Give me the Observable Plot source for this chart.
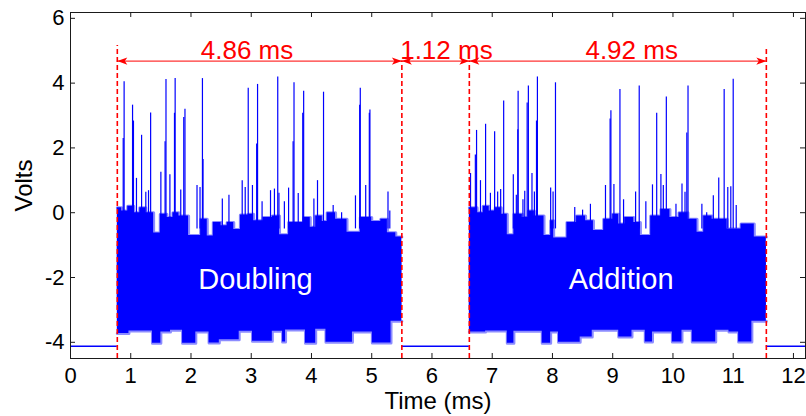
<!DOCTYPE html>
<html>
<head>
<meta charset="utf-8">
<script src="https://cdn.jsdelivr.net/npm/d3@7"></script>
<script src="https://cdn.jsdelivr.net/npm/@observablehq/plot@0.6"></script>
<style>
html, body { margin: 0; padding: 0; background: #fff; }
#chart svg { display: block; }
</style>
</head>
<body>
<div id="chart"></div>
<script>
// ---------------- data ----------------
const xTicks = [0, 1, 2, 3, 4, 5, 6, 7, 8, 9, 10, 11, 12];
const yTicks = [-4, -2, 0, 2, 4, 6];

const baselineLevel = -4.12;
const baselineSegments = [[0, 0.777], [5.50, 6.62], [11.55, 12.2]];

// upper edge of the dense noise band [ms, volts]
const upperDoubling = [[0.777,0.15],[0.85,0.05],[0.95,0.2],[1.05,0.0],[1.15,0.15],[1.25,0.0],[1.38,-0.63],[1.49,-0.05],[1.6,-0.15],[1.7,0.0],[1.8,-0.1],[1.96,-0.7],[2.16,-0.2],[2.27,-0.72],[2.37,-0.3],[2.5,-0.4],[2.6,-0.3],[2.71,-0.52],[2.82,-0.07],[2.95,-0.05],[3.04,-0.25],[3.2,-0.15],[3.35,-0.1],[3.47,-0.68],[3.62,-0.3],[3.87,-0.15],[3.98,-0.45],[4.07,-0.1],[4.18,-0.27],[4.26,0.0],[4.4,-0.2],[4.59,-0.6],[4.81,-0.15],[5.0,-0.27],[5.15,-0.2],[5.26,-0.62],[5.4,-0.75],[5.50,-0.75]];
const upperAddition = [[6.62,0.15],[6.75,0.0],[6.85,0.2],[6.95,0.05],[7.05,0.15],[7.15,-0.05],[7.25,-0.68],[7.36,-0.05],[7.5,-0.15],[7.6,0.05],[7.7,-0.1],[7.86,-0.7],[7.97,-0.25],[8.02,-0.78],[8.24,-0.3],[8.4,-0.1],[8.55,-0.25],[8.68,-0.55],[8.85,-0.2],[9.0,-0.05],[9.1,-0.35],[9.2,-0.15],[9.35,-0.3],[9.46,-0.7],[9.63,-0.1],[9.8,0.1],[9.95,-0.15],[10.1,0.0],[10.25,-0.2],[10.4,-0.6],[10.51,-0.1],[10.65,-0.2],[10.9,-0.5],[11.13,-0.35],[11.35,-0.75],[11.55,-0.75]];

// lower edge of the dense noise band [ms, volts]
const lowerDoubling = [[0.777,-3.73],[0.97,-3.65],[1.36,-4.03],[1.50,-3.68],[1.66,-3.63],[1.86,-4.03],[2.08,-3.68],[2.30,-4.02],[2.47,-3.92],[2.80,-3.66],[3.02,-3.97],[3.35,-3.66],[3.52,-3.99],[3.57,-3.62],[3.90,-4.03],[4.07,-3.6],[4.24,-4.0],[4.68,-3.68],[5.01,-4.02],[5.32,-3.35],[5.50,-3.35]];
const lowerAddition = [[6.62,-3.68],[6.89,-3.65],[7.25,-4.03],[7.36,-3.66],[7.83,-4.03],[7.97,-3.68],[8.10,-4.0],[8.46,-3.84],[8.66,-3.63],[9.10,-3.84],[9.32,-3.63],[9.54,-3.99],[9.66,-3.68],[9.99,-3.99],[10.15,-3.63],[10.32,-3.99],[10.71,-3.63],[10.93,-3.68],[11.09,-3.99],[11.31,-3.35],[11.55,-3.35]];

// spikes above the band [ms, peak volts]
const spikesDoubling = [[0.875,2.29],[0.89,4.04],[1.03,3.32],[1.045,2.83],[1.095,1.06],[1.18,2.39],[1.25,0.63],[1.295,0.68],[1.33,3.08],[1.50,1.25],[1.57,2.19],[1.585,4.11],[1.65,1.17],[1.726,3.07],[1.737,4.14],[1.83,0.70],[1.88,2.94],[1.90,3.19],[2.10,0.84],[2.15,0.78],[2.19,4.14],[2.20,1.64],[2.52,0.42],[2.63,0.54],[2.85,0.99],[2.90,0.78],[2.95,3.84],[3.02,0.84],[3.09,2.12],[3.105,3.96],[3.18,0.34],[3.32,0.68],[3.385,0.73],[3.44,4.19],[3.46,0.6],[3.55,0.34],[3.62,0.76],[3.695,2.19],[3.71,4.01],[3.78,0.59],[3.855,3.07],[3.87,3.75],[4.04,0.42],[4.10,0.99],[4.20,3.72],[4.36,0.22],[4.50,0.0],[4.73,0.52],[4.80,3.32],[4.81,3.84],[4.90,0.84],[4.96,3.07],[4.97,3.17],[5.27,0.64],[5.30,0.05]];
const spikesAddition = [[6.64,1.21],[6.72,1.78],[6.74,2.54],[6.805,0.99],[6.89,2.73],[6.97,0.6],[7.04,2.50],[7.09,0.64],[7.14,0.72],[7.19,3.45],[7.35,1.17],[7.40,0.54],[7.425,2.56],[7.43,3.75],[7.51,0.4],[7.54,0.66],[7.58,3.39],[7.60,3.91],[7.66,1.21],[7.70,0.64],[7.735,2.83],[7.75,4.19],[7.97,0.76],[8.01,0.64],[8.05,4.01],[8.37,0.16],[8.50,0.08],[8.63,0.26],[8.88,0.84],[8.957,2.89],[8.97,3.15],[9.02,0.87],[9.12,3.80],[9.18,0.4],[9.38,0.64],[9.44,3.91],[9.55,0.34],[9.66,0.86],[9.73,3.07],[9.80,1.18],[9.84,0.84],[9.89,3.57],[10.05,0.26],[10.15,0.89],[10.20,0.63],[10.23,2.46],[10.25,3.91],[10.48,0.26],[10.56,0.0],[10.67,0.52],[10.76,1.07],[10.85,3.80],[10.91,0.78],[10.96,0.8],[11.0,4.12],[11.05,0.22]];

// red annotations
const dividers = [{x: 0.777, top: 5.16}, {x: 5.50, top: 4.68}, {x: 6.62, top: 4.68}, {x: 11.55, top: 5.11}];
const arrowLevel = 4.68;
const arrows = [[0.777, 5.50], [5.50, 6.62], [6.62, 11.55]];
const durationLabels = [{x: 2.93, text: "4.86 ms"}, {x: 6.24, text: "1.12 ms"}, {x: 9.315, text: "4.92 ms"}];
const durationLabelLevel = 4.75;
const phaseLabels = [{x: 3.07, text: "Doubling"}, {x: 9.14, text: "Addition"}];
const phaseLabelLevel = -2.35;

// ---------------- chart ----------------
const W = 806, H = 416;
const mt = 12, mb = 58, ml = 70, mr = 1;
const innerH = H - mt - mb, innerW = W - ml - mr;
const tickLen = 5;
const FONT = "'Liberation Sans', Arial, Helvetica, sans-serif";
const BLUE = "#0000ff", FRINGE = "#8c8cff", RED = "#ff0000", INK = "#1a1a1a";

const upperRows = [
  ...upperDoubling.map(([x, v]) => ({seg: 1, x, v})),
  ...upperAddition.map(([x, v]) => ({seg: 2, x, v}))
];
const lowerRows = [
  ...lowerDoubling.map(([x, v]) => ({seg: 1, x, v})),
  ...lowerAddition.map(([x, v]) => ({seg: 2, x, v}))
];
const spikes = [...spikesDoubling, ...spikesAddition];
const heads = arrows.flatMap(([a, b]) => [{x: a, rot: -90}, {x: b, rot: 90}]);

const headSymbol = {
  draw(ctx) {
    ctx.moveTo(0, 0);
    ctx.lineTo(3.6, 10);
    ctx.lineTo(0, 7.5);
    ctx.lineTo(-3.6, 10);
    ctx.closePath();
  }
};

const chart = Plot.plot({
  width: W, height: H,
  marginTop: mt, marginBottom: mb, marginLeft: ml, marginRight: mr,
  style: {fontFamily: FONT, fontSize: "22px", color: INK, background: "#fff"},
  x: {domain: [0, 12.2]},
  y: {domain: [-4.5, 6.18]},
  marks: [
    // signal
    Plot.ruleY(baselineSegments, {x1: d => d[0], x2: d => d[1], y: baselineLevel, stroke: BLUE, strokeWidth: 1.5}),
    // soft anti-aliased fringe along the band edges
    Plot.line(upperRows, {x: "x", y: "v", z: "seg", curve: "step-after", stroke: FRINGE, strokeWidth: 3}),
    Plot.line(lowerRows, {x: "x", y: "v", z: "seg", curve: "step-after", stroke: FRINGE, strokeWidth: 3}),
    Plot.areaY(upperRows, {x: "x", y1: -3, y2: "v", z: "seg", curve: "step-after", fill: BLUE}),
    Plot.areaY(lowerRows, {x: "x", y1: "v", y2: -1, z: "seg", curve: "step-after", fill: BLUE}),
    Plot.ruleX(spikes, {x: d => d[0], y1: -0.5, y2: d => d[1], stroke: BLUE, strokeWidth: 1.2}),
    // phase labels
    Plot.text(phaseLabels, {x: "x", y: phaseLabelLevel, text: "text", fill: "white", fontSize: 29, lineAnchor: "bottom", textAnchor: "middle", fontFamily: FONT}),
    // red annotations
    Plot.ruleX(dividers, {x: "x", y1: -4.5, y2: "top", stroke: RED, strokeWidth: 1.6, strokeDasharray: "5,3"}),
    Plot.ruleY(arrows, {x1: d => d[0], x2: d => d[1], y: arrowLevel, stroke: RED, strokeWidth: 1}),
    Plot.dot(heads, {x: "x", y: arrowLevel, rotate: "rot", symbol: headSymbol, fill: RED, stroke: "none"}),
    Plot.text(durationLabels, {x: "x", y: durationLabelLevel, text: "text", fill: RED, fontSize: 26, lineAnchor: "bottom", textAnchor: "middle", fontFamily: FONT}),
    // frame and inward ticks (MATLAB style)
    Plot.frame({stroke: INK, strokeWidth: 1}),
    Plot.ruleX(xTicks, {x: d => d, insetTop: innerH - tickLen, stroke: INK}),
    Plot.ruleX(xTicks, {x: d => d, insetBottom: innerH - tickLen, stroke: INK}),
    Plot.ruleY(yTicks, {y: d => d, insetRight: innerW - tickLen, stroke: INK}),
    Plot.ruleY(yTicks, {y: d => d, insetLeft: innerW - tickLen, stroke: INK}),
    Plot.axisX(xTicks, {tickSize: 0, tickPadding: 9, tickFormat: d => String(d), fontSize: 22, fontFamily: FONT, fill: "#000", label: null}),
    Plot.axisY(yTicks, {tickSize: 0, tickPadding: 6, tickFormat: d => String(d), fontSize: 22, fontFamily: FONT, fill: "#000", label: null}),
    // axis titles
    Plot.text(["Time (ms)"], {frameAnchor: "bottom", text: d => d, dy: 50.5, lineAnchor: "bottom", textAnchor: "middle", fontSize: 24, fill: "#000", fontFamily: FONT}),
    Plot.text(["Volts"], {frameAnchor: "left", text: d => d, dx: -38.5, rotate: -90, lineAnchor: "bottom", textAnchor: "middle", fontSize: 24, fill: "#000", fontFamily: FONT})
  ]
});
document.getElementById("chart").appendChild(chart);
</script>
</body>
</html>
